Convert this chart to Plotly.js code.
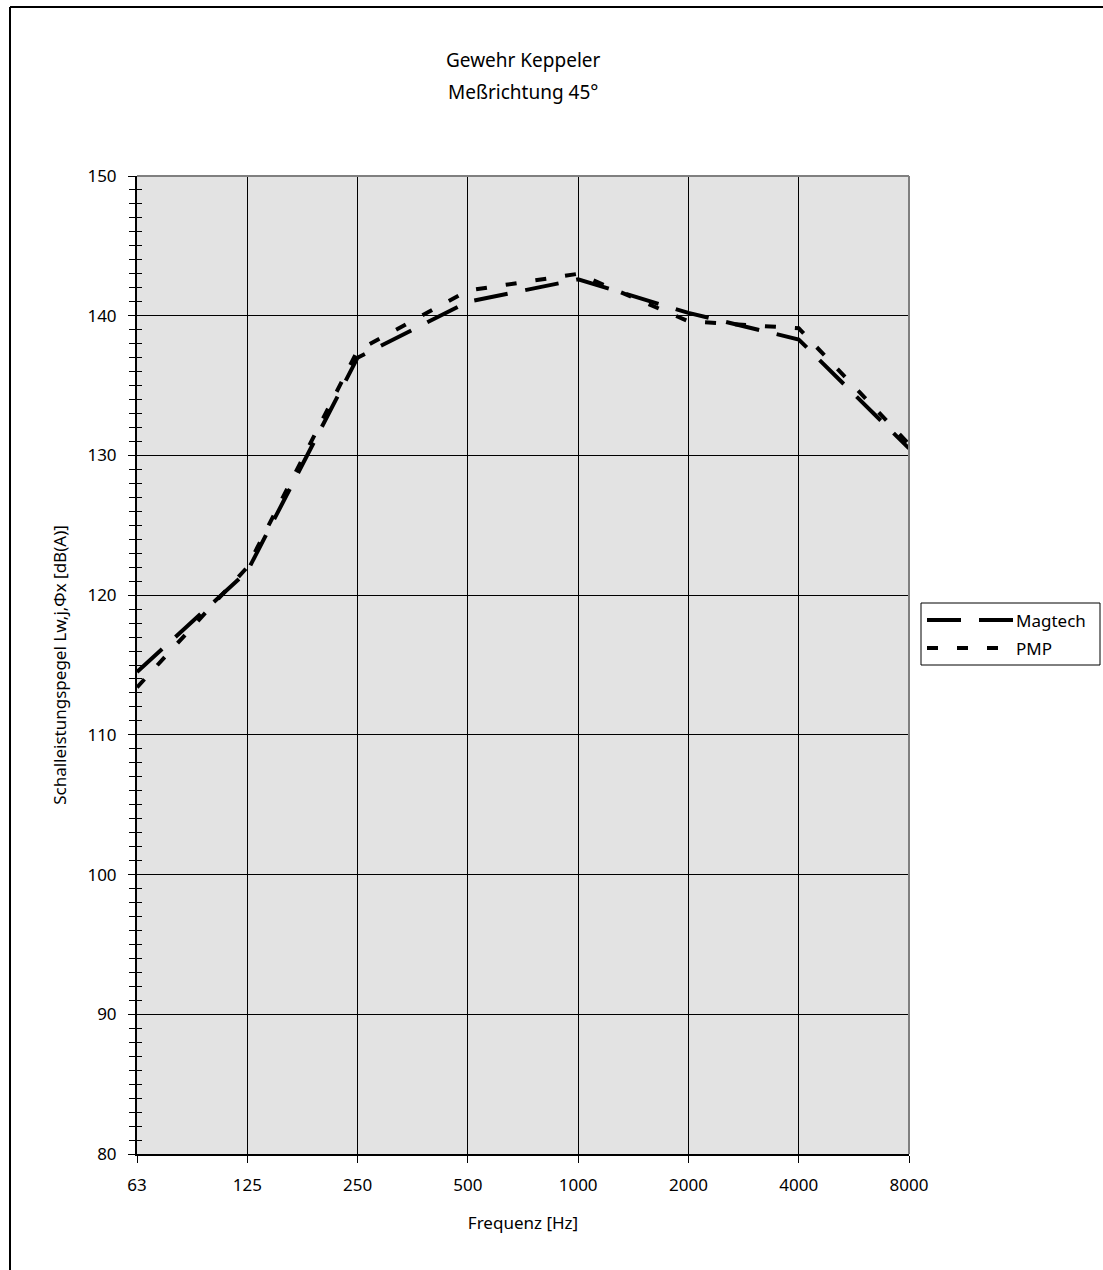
<!DOCTYPE html>
<html>
<head>
<meta charset="utf-8">
<script src="https://cdn.plot.ly/plotly-3.0.1.min.js"></script>
<style>
  html, body { margin: 0; padding: 0; background: #ffffff; }
  #chart { width: 1103px; height: 1270px; }
</style>
</head>
<body>
<div id="chart"></div>
<script>
// Octave band centre frequencies (Hz)
const frequencies = ['63', '125', '250', '500', '1000', '2000', '4000', '8000'];

// Sound power level per band, dB(A)
const magtech = [114.5, 121.7, 137.0, 141.0, 142.6, 140.2, 138.3, 130.5];
const pmp     = [113.4, 122.0, 137.5, 141.8, 143.0, 139.6, 139.1, 130.8];

const seriesNames = ['Magtech', 'PMP'];

const chartTitle = ['Gewehr Keppeler', 'Meßrichtung 45°'];
const xTitle = 'Frequenz [Hz]';
const yTitle = 'Schalleistungspegel Lw,j,Φx [dB(A)]';

const FONT = 'Noto Sans, Open Sans, Liberation Sans, sans-serif';
const DASH_LONG = '34px,18px';
const DASH_SHORT = '11px,19px';

const W = 1103, H = 1270;
const M = { l: 137, r: 194, t: 176, b: 116 };
const PW = W - M.l - M.r, PH = H - M.t - M.b;
// pixel -> paper coordinate helpers for decoration placement
const px = X => (X - M.l) / PW;
const py = Y => (H - M.b - Y) / PH;

const traces = [
  {
    x: frequencies, y: magtech, name: seriesNames[0], type: 'scatter', mode: 'lines',
    line: { color: '#000000', width: 4, dash: DASH_LONG }, showlegend: false
  },
  {
    x: frequencies, y: pmp, name: seriesNames[1], type: 'scatter', mode: 'lines',
    line: { color: '#000000', width: 4, dash: DASH_SHORT }, showlegend: false
  }
];

// Legend drawn as a framed box with long line samples
const legendBox = { x0: px(921), x1: px(1100), y0: py(665), y1: py(603) };
const legendRows = [py(620), py(648)];
const legendDashes = [DASH_LONG, DASH_SHORT];

const shapes = [
  // outer chart frame (top and left edges)
  { type: 'line', xref: 'paper', yref: 'paper', x0: px(10), x1: px(1103), y0: py(7), y1: py(7),
    line: { color: '#000000', width: 2 } },
  { type: 'line', xref: 'paper', yref: 'paper', x0: px(10), x1: px(10), y0: py(7), y1: py(1270),
    line: { color: '#000000', width: 2 } },
  // plot area top and right border
  { type: 'line', xref: 'paper', yref: 'paper', x0: 0, x1: 1, y0: 1, y1: 1,
    line: { color: '#808080', width: 2 } },
  { type: 'line', xref: 'paper', yref: 'paper', x0: 1, x1: 1, y0: 0, y1: 1,
    line: { color: '#808080', width: 2 } },
  // legend frame
  { type: 'rect', xref: 'paper', yref: 'paper', x0: legendBox.x0, x1: legendBox.x1,
    y0: legendBox.y0, y1: legendBox.y1, fillcolor: '#ffffff', line: { color: '#000000', width: 1 } }
];
legendRows.forEach((yy, i) => {
  shapes.push({ type: 'line', xref: 'paper', yref: 'paper', x0: px(927), x1: px(1013), y0: yy, y1: yy,
    line: { color: '#000000', width: 4, dash: legendDashes[i] } });
});

const annotations = [
  { text: chartTitle[0], xref: 'paper', yref: 'paper', x: 0.5, y: py(60), xanchor: 'center', yanchor: 'middle',
    showarrow: false, font: { family: FONT, size: 19, color: '#000000' } },
  { text: chartTitle[1], xref: 'paper', yref: 'paper', x: 0.5, y: py(92), xanchor: 'center', yanchor: 'middle',
    showarrow: false, font: { family: FONT, size: 19, color: '#000000' } }
];
legendRows.forEach((yy, i) => {
  annotations.push({ text: seriesNames[i], xref: 'paper', yref: 'paper', x: px(1014), y: yy,
    xanchor: 'left', yanchor: 'middle', showarrow: false,
    font: { family: FONT, size: 17, color: '#000000' } });
});

const layout = {
  width: W, height: H,
  margin: M,
  paper_bgcolor: '#ffffff',
  plot_bgcolor: '#e3e3e3',
  font: { family: FONT, size: 16, color: '#000000' },
  showlegend: false,
  xaxis: {
    type: 'category', range: [0, 7],
    showgrid: true, gridcolor: '#000000', gridwidth: 1,
    showline: true, linecolor: '#000000', linewidth: 2,
    ticks: 'outside', ticklen: 7, tickcolor: '#000000', tickwidth: 1,
    ticklabelstandoff: 8,
    tickfont: { family: FONT, size: 17 },
    title: { text: xTitle, font: { family: FONT, size: 17 }, standoff: 22 },
    zeroline: false, fixedrange: true
  },
  yaxis: {
    range: [80, 150], dtick: 10, tick0: 80,
    showgrid: true, gridcolor: '#000000', gridwidth: 1,
    showline: true, linecolor: '#000000', linewidth: 2,
    ticks: 'outside', ticklen: 7, tickcolor: '#000000', tickwidth: 1,
    ticklabelstandoff: 8,
    minor: { dtick: 1, ticks: 'outside', ticklen: 6, tickcolor: '#000000', tickwidth: 1, showgrid: false },
    tickfont: { family: FONT, size: 17 },
    title: { text: yTitle, font: { family: FONT, size: 17 }, standoff: 16 },
    zeroline: false, fixedrange: true
  },
  // overlay axes carry the inner half of the crossing tick marks
  xaxis2: {
    type: 'category', range: [0, 7], overlaying: 'x', anchor: 'y',
    showgrid: false, showline: false, showticklabels: false,
    ticks: 'inside', ticklen: 4, tickcolor: '#000000', tickwidth: 1,
    categoryarray: frequencies, zeroline: false, fixedrange: true
  },
  yaxis2: {
    range: [80, 150], dtick: 10, tick0: 80, overlaying: 'y', side: 'left', anchor: 'x',
    showgrid: false, showline: false, showticklabels: false,
    ticks: 'inside', ticklen: 5, tickcolor: '#000000', tickwidth: 1,
    minor: { dtick: 1, ticks: 'inside', ticklen: 5, tickcolor: '#000000', tickwidth: 1, showgrid: false },
    zeroline: false, fixedrange: true
  },
  shapes: shapes,
  annotations: annotations
};

// invisible trace that binds the overlay axes
traces.push({ x: frequencies, y: magtech, xaxis: 'x2', yaxis: 'y2', type: 'scatter', mode: 'lines',
  line: { width: 0 }, opacity: 0, hoverinfo: 'skip', showlegend: false });

Plotly.newPlot('chart', traces, layout, { staticPlot: true, displayModeBar: false });
</script>
</body>
</html>
